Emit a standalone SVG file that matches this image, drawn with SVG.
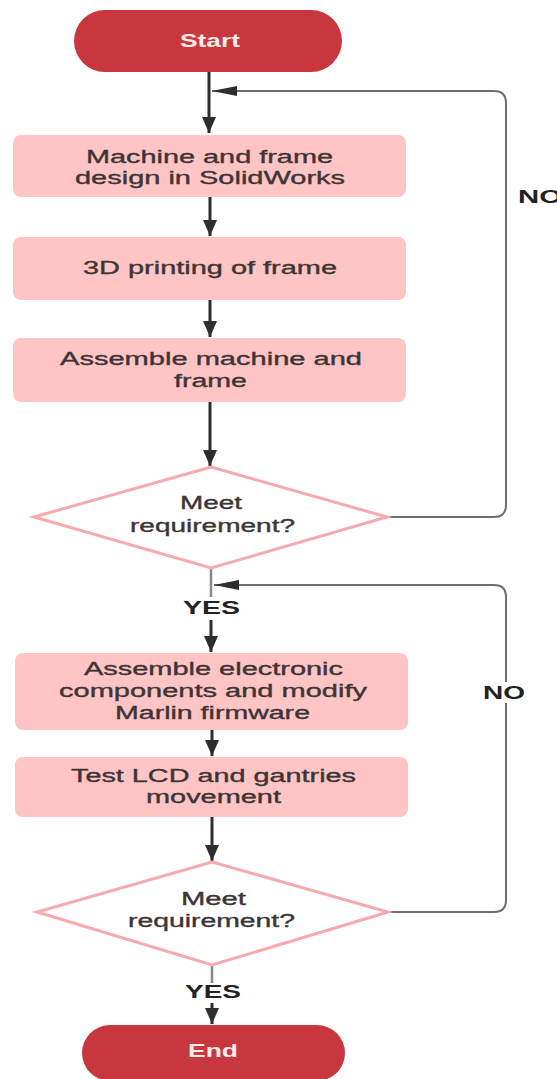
<svg xmlns="http://www.w3.org/2000/svg" width="557" height="1079" viewBox="0 0 557 1079">
<defs>
<style>
.term{fill:#c8373d;}
.tt{font-family:"Liberation Sans",Arial,sans-serif;font-size:19px;font-weight:bold;fill:#fbeaea;text-anchor:middle;}
.box{fill:#ffc4c4;}
.bt{font-family:"Liberation Sans",Arial,sans-serif;font-size:18px;fill:#3d3535;stroke:#3d3535;stroke-width:0.35;text-anchor:middle;}
.dia{fill:#ffffff;stroke:#f7a9ab;stroke-width:3;}
.lbl{font-family:"Liberation Sans",Arial,sans-serif;font-size:18px;font-weight:bold;fill:#222;text-anchor:middle;}
.flow{fill:none;stroke:#2e2e2e;stroke-width:3;}
.light{fill:none;stroke:#888;stroke-width:2.5;}
.loop{fill:none;stroke:#6e6e6e;stroke-width:2;}
</style>
<marker id="ah" viewBox="0 0 16 14" refX="16" refY="7" markerWidth="16" markerHeight="14" markerUnits="userSpaceOnUse" orient="auto">
<path d="M0,0 L16,7 L0,14 z" fill="#2e2e2e"/>
</marker>
<marker id="ahl" viewBox="0 0 25 10" refX="25" refY="5" markerWidth="25" markerHeight="10" markerUnits="userSpaceOnUse" orient="auto">
<path d="M0,0 L25,5 L0,10 z" fill="#2e2e2e"/>
</marker>
</defs>
<rect width="557" height="1079" fill="#ffffff"/>

<g id="connectors">
<path class="flow" d="M209,72 V133" marker-end="url(#ah)"/>
<path class="flow" d="M210,197 V236" marker-end="url(#ah)"/>
<path class="flow" d="M210,300 V337" marker-end="url(#ah)"/>
<path class="flow" d="M210,402 V466" marker-end="url(#ah)"/>
<path class="light" d="M211,569 V597"/>
<path class="flow" d="M211,620 V652" marker-end="url(#ah)"/>
<path class="flow" d="M212,730 V756" marker-end="url(#ah)"/>
<path class="flow" d="M212,817 V861" marker-end="url(#ah)"/>
<path class="light" d="M212,966 V983"/>
<path class="flow" d="M212,1003 V1024" marker-end="url(#ah)"/>
<path class="loop" d="M387,517 H494 Q506,517 506,505 V103 Q506,91 494,91 H212" marker-end="url(#ahl)"/>
<path class="loop" d="M388,912 H494 Q506,912 506,900 V597 Q506,585 494,585 H214" marker-end="url(#ahl)"/>
</g>

<g id="start">
<rect class="term" x="74" y="10" width="268" height="62" rx="31"/>
<text class="tt" x="210" y="47" textLength="60" lengthAdjust="spacingAndGlyphs">Start</text>
</g>

<g id="design">
<rect class="box" x="13" y="135" width="393" height="62" rx="8"/>
<text class="bt" x="209.5" y="163" textLength="247" lengthAdjust="spacingAndGlyphs">Machine and frame</text>
<text class="bt" x="210" y="184" textLength="270" lengthAdjust="spacingAndGlyphs">design in SolidWorks</text>
</g>

<g id="printing">
<rect class="box" x="13" y="237" width="393" height="63" rx="8"/>
<text class="bt" x="210" y="274" textLength="254" lengthAdjust="spacingAndGlyphs">3D printing of frame</text>
</g>

<g id="assemble-machine">
<rect class="box" x="13" y="338" width="393" height="64" rx="8"/>
<text class="bt" x="211" y="365" textLength="302" lengthAdjust="spacingAndGlyphs">Assemble machine and</text>
<text class="bt" x="210.5" y="387" textLength="73" lengthAdjust="spacingAndGlyphs">frame</text>
</g>

<g id="decision1">
<polygon class="dia" points="211,467 387,517 211,568 34,517"/>
<text class="bt" x="211" y="509" textLength="62" lengthAdjust="spacingAndGlyphs">Meet</text>
<text class="bt" x="212.5" y="532" textLength="165" lengthAdjust="spacingAndGlyphs">requirement?</text>
</g>

<g id="yes1">
<text class="lbl" x="211.5" y="614" textLength="57" lengthAdjust="spacingAndGlyphs">YES</text>
</g>

<g id="no1">
<text class="lbl" x="518" y="203" style="text-anchor:start" textLength="44" lengthAdjust="spacingAndGlyphs">NO</text>
</g>

<g id="assemble-electronics">
<rect class="box" x="15" y="653" width="393" height="77" rx="8"/>
<text class="bt" x="213.5" y="675" textLength="259" lengthAdjust="spacingAndGlyphs">Assemble electronic</text>
<text class="bt" x="213" y="697" textLength="308" lengthAdjust="spacingAndGlyphs">components and modify</text>
<text class="bt" x="212.5" y="719" textLength="195" lengthAdjust="spacingAndGlyphs">Marlin firmware</text>
</g>

<g id="test">
<rect class="box" x="15" y="757" width="393" height="60" rx="8"/>
<text class="bt" x="213.5" y="782" textLength="285" lengthAdjust="spacingAndGlyphs">Test LCD and gantries</text>
<text class="bt" x="213.5" y="803" textLength="135" lengthAdjust="spacingAndGlyphs">movement</text>
</g>

<g id="decision2">
<polygon class="dia" points="212,862 388,912 212,965 37,912"/>
<text class="bt" x="213.5" y="905" textLength="65" lengthAdjust="spacingAndGlyphs">Meet</text>
<text class="bt" x="211.5" y="927" textLength="167" lengthAdjust="spacingAndGlyphs">requirement?</text>
</g>

<g id="no2">
<rect x="484" y="682" width="42" height="21" fill="#ffffff"/>
<text class="lbl" x="504" y="699" textLength="42" lengthAdjust="spacingAndGlyphs">NO</text>
</g>

<g id="yes2">
<text class="lbl" x="213" y="998" textLength="56" lengthAdjust="spacingAndGlyphs">YES</text>
</g>

<g id="end">
<rect class="term" x="82" y="1025" width="263" height="56" rx="28"/>
<text class="tt" x="213" y="1057" textLength="50" lengthAdjust="spacingAndGlyphs">End</text>
</g>
</svg>
